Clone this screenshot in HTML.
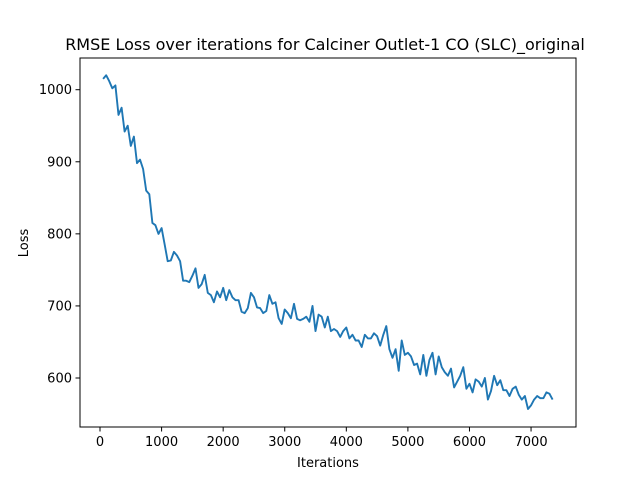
<!DOCTYPE html>
<html><head><meta charset="utf-8"><style>
body{margin:0;background:#fff;}
svg{font-family:"DejaVu Sans","Liberation Sans",sans-serif;}
</style></head><body>
<svg id="chart" width="640" height="480" viewBox="0 0 640 480">
<rect x="0" y="0" width="640" height="480" fill="#fff"/>
<text x="325" y="50" text-anchor="middle" font-size="16">RMSE Loss over iterations for Calciner Outlet-1 CO (SLC)_original</text>
<g id="ticks"></g>
<polyline id="line" fill="none" stroke="#1f77b4" stroke-width="1.9" stroke-linejoin="round"/>
<rect x="80" y="58" width="496" height="369" fill="none" stroke="#000" stroke-width="1"/>
<text x="328" y="467" text-anchor="middle" font-size="13">Iterations</text>
<text x="28" y="243" text-anchor="middle" font-size="13" transform="rotate(-90 28 243)">Loss</text>
</svg>
<script>
const xTicks=[0,1000,2000,3000,4000,5000,6000,7000];
const yTicks=[600,700,800,900,1000];
const iterStart=50, iterStep=50;
const lossValues=[1015,1020,1012,1002,1006,965,975,942,950,922,935,898,903,890,860,855,815,812,800,808,785,762,763,775,770,762,735,735,733,742,752,725,730,743,718,715,705,720,712,725,708,722,712,708,708,692,690,697,718,712,698,697,690,693,715,703,705,683,675,695,690,683,703,682,680,682,685,678,700,665,688,685,670,685,665,668,665,657,665,670,655,660,652,652,643,660,655,655,662,658,645,660,672,640,628,640,610,652,632,635,630,618,620,605,632,603,625,635,605,630,615,608,603,613,587,595,603,615,585,592,580,598,595,588,600,570,582,603,590,597,583,583,575,585,588,577,570,575,557,562,570,575,572,572,580,578,570];
const X=v=>80+(v+325)*496/8055;
const Y=v=>427-(v-532)*369/512;
const g=document.getElementById('ticks');
const ns='http://www.w3.org/2000/svg';
xTicks.forEach(t=>{
 const l=document.createElementNS(ns,'line');
 
 
 l.setAttribute('x1',X(t));l.setAttribute('x2',X(t));l.setAttribute('y1',427);l.setAttribute('y2',431.5);l.setAttribute('stroke','#000');
 g.appendChild(l);
 const tx=document.createElementNS(ns,'text');
 
 
 tx.setAttribute('x',X(t));tx.setAttribute('y',446);tx.setAttribute('text-anchor','middle');tx.setAttribute('font-size','13');
 tx.textContent=t;g.appendChild(tx);
});
yTicks.forEach(t=>{
 const l=document.createElementNS(ns,'line');
 
 
 l.setAttribute('x1',75.5);l.setAttribute('x2',80);l.setAttribute('y1',Y(t));l.setAttribute('y2',Y(t));l.setAttribute('stroke','#000');
 g.appendChild(l);
 const tx=document.createElementNS(ns,'text');
 
 
 tx.setAttribute('x',72);tx.setAttribute('y',Y(t)+4.5);tx.setAttribute('text-anchor','end');tx.setAttribute('font-size','13');
 tx.textContent=t;g.appendChild(tx);
});
document.getElementById('line').setAttribute('points',lossValues.map((v,i)=>X(iterStart+i*iterStep).toFixed(1)+','+Y(v).toFixed(1)).join(' '));
</script>
</body></html>
